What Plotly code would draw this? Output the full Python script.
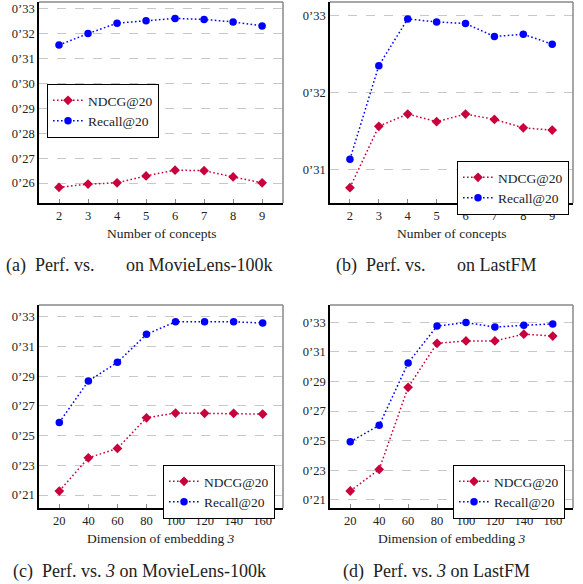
import plotly.graph_objects as go

# ---------------- data ----------------
concepts = [2, 3, 4, 5, 6, 7, 8, 9]
dims = [20, 40, 60, 80, 100, 120, 140, 160]

ml_concepts_ndcg = [0.2583, 0.2596, 0.2601, 0.2629, 0.2652, 0.2650, 0.2625, 0.2601]
ml_concepts_recall = [0.3155, 0.3201, 0.3243, 0.3253, 0.3262, 0.3258, 0.3248, 0.3232]
fm_concepts_ndcg = [0.3076, 0.3156, 0.3172, 0.3162, 0.3172, 0.3165, 0.3154, 0.3151]
fm_concepts_recall = [0.3113, 0.3235, 0.3296, 0.3292, 0.3290, 0.3273, 0.3276, 0.3263]
ml_dim_ndcg = [0.2127, 0.2351, 0.2414, 0.2620, 0.2652, 0.2650, 0.2650, 0.2645]
ml_dim_recall = [0.2589, 0.2867, 0.2993, 0.3182, 0.3266, 0.3266, 0.3266, 0.3258]
fm_dim_ndcg = [0.2159, 0.2305, 0.2860, 0.3158, 0.3174, 0.3174, 0.3220, 0.3207]
fm_dim_recall = [0.2492, 0.2603, 0.3025, 0.3275, 0.3298, 0.3268, 0.3280, 0.3289]

ticks_a = [0.26, 0.27, 0.28, 0.29, 0.30, 0.31, 0.32, 0.33]
labels_a = ["0’26", "0’27", "0’28", "0’29", "0’30", "0’31", "0’32", "0’33"]
ticks_b = [0.31, 0.32, 0.33]
labels_b = ["0’31", "0’32", "0’33"]
ticks_cd = [0.21, 0.23, 0.25, 0.27, 0.29, 0.31, 0.33]
labels_cd = ["0’21", "0’23", "0’25", "0’27", "0’29", "0’31", "0’33"]

series_names = ["NDCG@20", "Recall@20"]
x_titles = ["Number of concepts", "Number of concepts",
            "Dimension of embedding <i>3</i>", "Dimension of embedding <i>3</i>"]
captions = ["(a)\u00a0 Perf. vs.\u00a0\u00a0\u00a0\u00a0\u00a0\u00a0 on MovieLens-100k",
            "(b)\u00a0 Perf. vs.\u00a0\u00a0\u00a0\u00a0\u00a0\u00a0 on LastFM",
            "(c)\u00a0 Perf. vs. <i>3</i> on MovieLens-100k",
            "(d)\u00a0 Perf. vs. <i>3</i> on LastFM"]

# ---------------- layout helpers ----------------
W, H = 583, 584
FONT = "Liberation Serif"
RED = "#C8003C"
BLUE = "#0000FF"
DOTS = "1.6px,2.4px"

def px_x(p):
    return p / W

def px_y(p):
    return 1 - p / H

panels = [
    dict(x=concepts, ndcg=ml_concepts_ndcg, rec=ml_concepts_recall, box=(39, 283, 2, 203),
         yr=[0.2520, 0.3328], xr=[1.31, 9.72], tv=ticks_a, tt=labels_a, xt=concepts,
         leg=(47, 84, "left")),
    dict(x=concepts, ndcg=fm_concepts_ndcg, rec=fm_concepts_recall, box=(330, 573, 2, 203),
         yr=[0.3056, 0.3318], xr=[1.31, 9.72], tv=ticks_b, tt=labels_b, xt=concepts,
         leg=(569, 161, "right")),
    dict(x=dims, ndcg=ml_dim_ndcg, rec=ml_dim_recall, box=(39, 283, 305, 508),
         yr=[0.2013, 0.3379], xr=[6, 174], tv=ticks_cd, tt=labels_cd, xt=dims,
         leg=(275, 465, "right")),
    dict(x=dims, ndcg=fm_dim_ndcg, rec=fm_dim_recall, box=(330, 573, 305, 508),
         yr=[0.2044, 0.3417], xr=[6, 174], tv=ticks_cd, tt=labels_cd, xt=dims,
         leg=(565, 465, "right")),
]

fig = go.Figure()
layout = dict(width=W, height=H, margin=dict(l=0, r=0, t=0, b=0),
              template="none", paper_bgcolor="white", plot_bgcolor="white",
              font=dict(family=FONT, size=12, color="#222"),
              annotations=[], shapes=[])

for i, p in enumerate(panels):
    n = i + 1
    xa = "x" if n == 1 else f"x{n}"
    ya = "y" if n == 1 else f"y{n}"
    leg = "legend" if n == 1 else f"legend{n}"
    fig.add_trace(go.Scatter(
        x=p["x"], y=p["ndcg"], name=series_names[0], xaxis=xa, yaxis=ya, legend=leg,
        mode="lines+markers", line=dict(color=RED, width=1.5, dash=DOTS),
        marker=dict(symbol="diamond", size=7.5, color=RED)))
    fig.add_trace(go.Scatter(
        x=p["x"], y=p["rec"], name=series_names[1], xaxis=xa, yaxis=ya, legend=leg,
        mode="lines+markers", line=dict(color=BLUE, width=1.5, dash=DOTS),
        marker=dict(symbol="circle", size=7.5, color=BLUE)))

    l, r, t, b = p["box"]
    xkey = "xaxis" if n == 1 else f"xaxis{n}"
    ykey = "yaxis" if n == 1 else f"yaxis{n}"
    layout[xkey] = dict(domain=[px_x(l), px_x(r)], anchor=ya, range=p["xr"],
                        tickvals=p["xt"], ticks="inside", ticklen=4, tickcolor="#888",
                        showgrid=False, zeroline=False, showline=True,
                        linecolor="black", linewidth=1.5,
                        tickfont=dict(family=FONT, size=12.5, color="#222"))
    layout[ykey] = dict(domain=[px_y(b), px_y(t)], anchor=xa, range=p["yr"],
                        tickvals=p["tv"], ticktext=p["tt"], ticks="",
                        showgrid=True, gridcolor="#c8c8c8", griddash="dash", gridwidth=1,
                        zeroline=False, showline=True, linecolor="black", linewidth=1.5,
                        tickfont=dict(family=FONT, size=12.5, color="#222"))
    # gray top and right frame
    layout["shapes"].append(dict(type="line", xref=f"{xa} domain", yref=f"{ya} domain",
                                 x0=0, x1=1, y0=1, y1=1, line=dict(color="#888", width=1.5)))
    layout["shapes"].append(dict(type="line", xref=f"{xa} domain", yref=f"{ya} domain",
                                 x0=1, x1=1, y0=0, y1=1, line=dict(color="#888", width=1.5)))
    # legend
    lx, ly, anc = p["leg"]
    layout[leg] = dict(x=px_x(lx), y=px_y(ly), xanchor=anc, yanchor="top",
                       bgcolor="white", bordercolor="black", borderwidth=1,
                       font=dict(family=FONT, size=13.5, color="#222"),
                       tracegroupgap=0, itemwidth=30)
    # axis title
    layout["annotations"].append(dict(text=x_titles[i], xref="paper", yref="paper",
                                      x=px_x((l + r) / 2), y=px_y(b + 30), showarrow=False,
                                      xanchor="center", yanchor="middle",
                                      font=dict(family=FONT, size=13.5, color="#222")))
    # caption
    cx = 139 if i % 2 == 0 else 436
    layout["annotations"].append(dict(text=captions[i], xref="paper", yref="paper",
                                      x=px_x(cx), y=px_y(b + 63), showarrow=False,
                                      xanchor="center", yanchor="middle",
                                      font=dict(family=FONT, size=18, color="#222")))

fig.update_layout(**layout)
fig.write_html("out.html", config={"displayModeBar": False},
               post_script="document.body.style.margin='0';document.body.style.padding='0';")
